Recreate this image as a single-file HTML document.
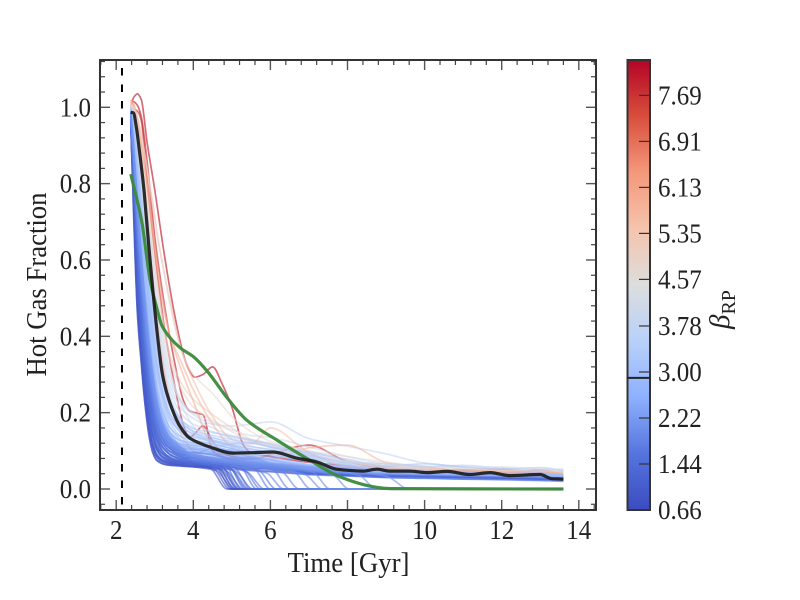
<!DOCTYPE html>
<html lang="en">
<head>
<meta charset="utf-8">
<title>Hot Gas Fraction vs Time</title>
<style>
html,body{margin:0;padding:0;background:#fff;}
#chart{display:block;width:800px;height:600px;font-family:"Liberation Serif",serif;fill:#222;}
</style>
</head>
<body>
<svg id="chart" xmlns="http://www.w3.org/2000/svg" width="800" height="600" viewBox="0 0 800 600">
<defs>
<linearGradient id="cbar-grad" x1="0" y1="1" x2="0" y2="0"></linearGradient>
<clipPath id="plot-clip"><rect x="100" y="60" width="496" height="450"></rect></clipPath>
</defs>
<g id="lines" clip-path="url(#plot-clip)"></g>
<g id="axes"></g>
<g id="cbar"></g>
<text x="348.5" y="572" font-size="28" text-anchor="middle" textLength="122" lengthAdjust="spacingAndGlyphs">Time [Gyr]</text>
<text transform="translate(46,284.5) rotate(-90)" font-size="28" text-anchor="middle" textLength="184" lengthAdjust="spacingAndGlyphs">Hot Gas Fraction</text>
<text transform="translate(729,329) rotate(-90)" font-size="29"><tspan font-style="italic">β</tspan><tspan font-size="20" dy="6">RP</tspan></text>
</svg>
<script>
// ---- shared data ----
const gridTimes = [2.38,2.45,2.55,2.65,2.75,2.85,2.95,3.05,3.2,3.4,3.7,4,4.5,5,5.5,6,7,8,9,10,11,12,13,13.6];
const xTicks = [2,4,6,8,10,12,14];
const yTicks = [0,0.2,0.4,0.6,0.8,1.0];
const xMinorTicks = [1.6,2.4,2.8,3.2,3.6,4.4,4.8,5.2,5.6,6.4,6.8,7.2,7.6,8.4,8.8,9.2,9.6,10.4,10.8,11.2,11.6,12.4,12.8,13.2,13.6,14.4];
const yMinorTicks = [-0.04,0.04,0.08,0.12,0.16,0.24,0.28,0.32,0.36,0.44,0.48,0.52,0.56,0.64,0.68,0.72,0.76,0.84,0.88,0.92,0.96,1.04,1.08,1.12];
const cbarTicks = [0.66,1.44,2.22,3.00,3.78,4.57,5.35,6.13,6.91,7.69];
const cbarRange = [0.66,8.29];
const cbarMarker = 2.9;
const firstSnapshot = 2.15;

// galaxies stripped to zero: early decline, then a drop between two times
const fanHeadTimes = [2.38,2.45,2.55,2.65,2.75,2.85,2.95,3.05,3.2,3.4,3.7,4];
const fanHeads = [
[960,730,460,330,220,140,95,75,66,62,60,58],
[965,760,500,350,240,160,110,85,72,66,62,60],
[970,780,520,370,255,170,118,90,75,68,63,60],
[955,770,530,380,270,190,140,105,85,74,68,62],
[975,810,570,410,300,210,150,115,92,78,70,66],
[960,800,590,430,320,230,170,130,100,82,72,68],
[970,830,610,460,340,250,185,140,110,90,76,70],
[980,850,640,480,360,270,200,155,120,98,82,72],
[965,840,650,500,380,290,220,170,130,105,86,74],
[975,860,670,520,400,300,230,180,135,110,90,78],
[985,880,690,540,420,320,245,190,145,115,94,82],
[970,870,700,560,440,340,260,200,150,118,98,84],
[980,890,720,580,460,350,270,210,158,122,100,86],
[975,885,730,590,470,365,285,222,165,128,104,88],
[990,900,750,610,490,385,300,235,175,135,108,90]
];
const fanHeadIndex = [0,1,2,0,3,1,4,2,5,3,6,4,7,5,8,6,9,7,10,8,11,9,12,10,13,11,14,12,13,14];
const fanBetas = [0.7,0.8,0.8,0.9,0.9,1.0,1.0,1.1,1.1,1.2,1.2,1.3,1.3,1.4,1.4,1.5,1.5,1.6,1.6,1.7,1.7,1.8,1.8,1.9,1.9,2.0,2.0,2.1,2.1,2.2];
const dropStart = [4.42,4.5,4.55,4.6,4.62,4.65,4.7,4.72,4.75,4.8,4.85,4.9,4.95,5.0,5.05,5.1,5.2,5.3,5.4,5.55,5.7,5.9,6.05,6.3,6.6,6.9,7.1,7.6,8.3,9.0];
const dropEnd = [4.88,4.95,5,5.05,5.08,5.1,5.15,5.18,5.2,5.25,5.3,5.35,5.4,5.45,5.5,5.55,5.65,5.75,5.85,6,6.15,6.35,6.5,6.75,7.05,7.35,7.55,8.05,8.75,9.6];
const dropLevel = [55,55,60,48,60,52,62,50,58,64,48,60,55,50,58,46,60,52,44,56,48,42,52,44,46,38,44,38,36,34];

// plateau low-to-mid beta galaxies
const plateauBetas = [1.0,1.2,1.3,1.5,1.6,1.8,1.9,2.1,2.2,2.4,2.5,2.6,2.7,2.8,2.9,3.0];
const plateauValues = [
[960,750,490,340,230,150,105,80,68,64,62,60,56,52,48,45,38,36,34,32,30,28,26,24],
[970,780,530,370,260,170,120,90,76,70,66,64,60,56,50,46,40,37,35,33,31,29,27,25],
[960,790,560,400,290,200,140,105,84,74,68,66,64,60,54,50,42,38,36,34,32,30,28,26],
[975,820,590,430,320,230,165,125,95,80,72,70,68,64,58,52,44,39,36,35,33,31,29,27],
[965,830,620,470,350,260,190,145,110,90,78,74,72,66,60,54,46,40,37,35,34,32,30,28],
[980,850,650,490,370,280,210,160,120,98,84,80,76,70,62,56,47,41,38,36,34,32,30,28],
[970,860,680,530,410,310,240,185,135,105,90,84,80,74,66,58,48,42,39,37,35,33,31,29],
[985,880,700,560,440,340,260,200,150,115,96,88,84,78,68,60,50,43,40,38,36,34,32,30],
[975,880,720,580,460,360,280,215,160,125,102,94,88,80,70,62,52,44,41,38,36,35,33,31],
[990,900,740,600,480,380,295,230,172,132,108,100,92,82,72,64,54,46,42,39,37,35,34,32],
[980,900,760,620,500,400,310,245,185,142,115,105,96,86,74,66,55,47,43,40,38,36,34,32],
[985,910,770,640,520,420,330,260,198,150,122,110,100,90,78,68,56,48,44,41,38,36,35,33],
[990,920,790,660,540,440,350,275,210,160,128,115,105,95,82,70,58,50,45,42,39,37,35,33],
[985,920,800,680,560,460,370,295,225,172,136,120,110,100,86,74,60,52,46,43,40,38,36,34],
[990,930,820,700,590,490,400,320,245,185,145,128,118,106,90,78,62,54,48,44,41,39,37,35],
[995,940,840,720,610,510,420,340,262,198,155,135,124,112,95,80,64,56,50,46,43,40,38,36]
];

// extra plateau galaxies that sit higher at 4-6 Gyr
const extraBetas = [1.4,1.6,1.7,1.9,2.0,2.2,2.4,2.6,2.8,3.0,3.1,3.2];
const extraValues = [
[965,800,560,400,280,190,140,110,92,86,82,80,76,70,62,52,42,36,30,28,26,24,22,20],
[970,830,600,440,320,225,165,130,108,98,92,90,82,76,66,58,44,34,30,28,26,25,23,22],
[975,840,630,480,360,265,195,150,122,108,100,96,90,80,72,62,46,36,31,29,27,26,24,22],
[960,820,630,490,375,285,215,170,135,118,108,104,96,86,76,66,48,38,33,30,28,26,24,23],
[980,860,670,530,415,320,245,195,150,128,114,108,102,90,78,68,52,40,34,31,29,27,25,24],
[985,880,710,570,450,350,275,215,165,135,118,114,108,96,82,70,54,42,36,32,30,28,26,24],
[990,900,750,610,490,390,305,240,182,146,126,120,112,100,88,76,58,44,37,33,31,29,27,25],
[985,905,775,650,530,430,340,270,205,160,136,128,118,106,94,84,64,48,40,35,32,30,28,26],
[995,925,810,690,575,475,385,310,238,180,150,138,128,116,104,94,74,54,44,38,34,31,29,27],
[995,935,830,715,605,505,415,335,258,195,160,146,134,124,112,102,82,60,46,40,36,33,30,28],
[1000,945,850,740,630,530,440,360,280,212,170,152,140,130,120,110,88,64,48,42,38,34,32,30],
[1000,950,865,760,650,550,460,380,295,225,178,158,148,138,128,118,92,66,50,44,40,36,34,32]
];

// galaxies with uneven, wandering tracks through the band
const wanderBetas = [3.2,2.6,2.2,1.8,1.5,1.2,3.4,4.2,1.6,2.0];
const wanderValues = [
[990,930,820,700,590,490,400,330,255,190,150,125,112,118,122,110,96,78,60,66,58,52,56,48],
[985,900,760,620,500,400,320,255,190,145,112,98,92,104,96,88,72,52,48,44,46,40,42,36],
[980,880,710,570,450,350,270,210,160,125,100,92,106,98,84,76,60,44,40,42,37,38,33,30],
[975,860,670,520,400,300,230,175,130,105,88,96,90,78,84,68,52,42,38,34,36,31,32,28],
[970,830,610,460,340,250,180,130,100,82,76,88,74,68,72,58,48,38,36,37,32,33,29,27],
[965,800,560,400,290,200,140,105,82,72,66,74,66,58,52,56,40,36,32,33,30,30,27,26],
[995,945,860,755,650,555,465,385,300,230,180,150,120,105,92,100,84,70,66,58,62,54,50,52],
[1005,985,930,855,770,680,590,510,410,310,220,165,120,95,88,92,76,72,64,60,56,58,52,50],
[960,790,550,390,280,195,140,100,80,70,64,60,62,72,80,66,44,36,34,32,33,29,28,25],
[968,840,640,490,370,270,195,150,112,92,78,66,58,64,66,60,38,34,33,31,29,30,26,24]
];

// pale and salmon galaxies
const paleBetas = [3.1,3.3,3.5,3.7,3.9,3.7,4.1,4.4,4.8,5.1,5.6,5.8,5.6,6.0,4.7];
const paleValues = [
[990,950,860,750,640,540,450,370,285,215,165,142,125,112,100,92,72,58,52,48,45,42,40,38],
[995,955,870,770,660,560,470,390,300,228,172,150,128,115,105,98,80,62,54,50,46,43,40,38],
[1000,960,880,790,680,580,490,410,320,240,180,160,135,120,110,105,88,68,56,50,47,44,41,39],
[1000,965,890,800,700,600,510,430,335,255,195,170,150,135,125,115,95,72,58,52,48,45,42,40],
[1000,970,900,820,720,620,530,450,350,270,210,185,160,140,130,120,100,75,60,54,49,46,43,41],
[1000,970,910,830,730,640,550,470,370,285,225,195,170,165,170,176,132,112,92,68,58,50,44,40],
[1005,975,920,840,750,660,570,490,390,300,230,200,175,155,140,135,110,85,65,55,50,47,44,41],
[1005,975,900,790,660,530,420,330,240,140,68,65,65,60,55,52,45,42,40,38,37,36,35,34],
[1010,990,940,870,790,700,610,530,430,335,260,215,180,150,125,110,85,70,58,52,48,46,44,42],
[1015,995,950,885,810,720,630,550,450,350,275,235,195,160,130,115,90,72,60,54,50,48,45,43],
[1010,1005,975,930,870,810,750,680,590,490,360,285,190,130,118,160,95,60,55,46,52,44,50,42],
[1020,1005,965,905,830,750,670,590,490,400,330,260,170,110,85,78,108,115,70,58,48,54,44,46],
[1015,1000,950,870,770,660,550,450,340,230,140,100,78,70,65,62,55,50,44,50,42,48,43,38],
[1020,1010,970,910,840,760,680,600,500,400,310,230,110,75,65,62,56,52,50,44,50,43,47,40],
[1005,1000,970,925,870,805,740,670,590,480,360,300,250,190,150,125,100,85,70,60,55,50,48,45]
];

// red high-beta galaxies (own time samples)
const redTimes = [2.38,2.45,2.55,2.65,2.8,3,3.27,3.5,3.75,3.9,4.04,4.25,4.5,4.75,5,5.3,5.5,6,7,8,9,10,11,12,13,13.6];
const redBetas = [8.0,7.9,7.8];
const redValues = [
[1000,1025,1035,1020,910,783,600,465,350,310,293,300,320,275,215,115,95,85,70,60,44,50,42,50,40,40],
[1010,1015,1005,975,860,660,470,340,230,205,200,195,100,85,80,75,72,68,60,55,50,42,50,40,50,36],
[985,995,990,965,810,620,410,280,165,135,145,165,125,95,85,80,78,90,115,72,55,50,44,48,42,38]
];

// median line
const medianTimes = [2.38,2.45,2.52,2.6,2.72,2.85,2.95,3.03,3.2,3.37,3.65,3.91,4.43,5.03,5.5,6.07,6.68,7.2,7.72,8.4,8.76,9.1,9.6,10.06,10.58,11.17,11.7,12.2,13,13.3,13.6];
const medianValues = [987,985,950,888,783,630,521,440,300,233,165,133,110,94,95,97,81,71,52,47,52,47,47,43,46,38,43,35,38,27,26];

// reference green line
const greenTimes = [2.38,2.67,2.88,3.05,3.2,3.66,4,4.35,4.9,5.39,6.17,6.95,7.8,8.66,9.1,13.6];
const greenValues = [825,697,547,475,425,370,347,310,236,180,128,80,32,6,1,0];

// ---- scales ----
const x = t => 116.2 + (t - 2) * 38.55;
const y = v => 489 - v * 381.7;
const cbarY = b => 510 - (b - cbarRange[0]) / (cbarRange[1] - cbarRange[0]) * 450;
const NS = 'http://www.w3.org/2000/svg';
const coolStops = [[0,59,76,192],[0.125,85,116,222],[0.25,141,176,254],[0.375,184,208,249],[0.5,221,221,221],[0.625,245,196,173],[0.75,244,152,122],[0.875,216,78,60],[1,180,4,38]];
function cool(f){
  f = Math.max(0, Math.min(1, f));
  for (let i = 1; i < coolStops.length; i++) {
    if (f <= coolStops[i][0]) {
      const a = coolStops[i-1], b = coolStops[i], k = (f - a[0]) / (b[0] - a[0]);
      return 'rgb(' + [1,2,3].map(j => Math.round(a[j] + (b[j] - a[j]) * k)).join(',') + ')';
    }
  }
  return 'rgb(180,4,38)';
}
const betaColor = b => cool((b - cbarRange[0]) / (cbarRange[1] - cbarRange[0]));

function smoothPath(ts, vs){
  const px = ts.map(x), py = vs.map(v => y(v / 1000)), n = px.length;
  const s = [], m = [];
  for (let i = 0; i < n - 1; i++) s.push((py[i+1] - py[i]) / (px[i+1] - px[i]));
  m[0] = s[0];
  m[n-1] = s[n-2];
  for (let i = 1; i < n - 1; i++) {
    m[i] = s[i-1] * s[i] <= 0 ? 0 : 2 * s[i-1] * s[i] / (s[i-1] + s[i]);
  }
  let d = 'M' + px[0].toFixed(1) + ' ' + py[0].toFixed(1);
  for (let i = 0; i < n - 1; i++) {
    const h = (px[i+1] - px[i]) / 3;
    d += 'C' + (px[i] + h).toFixed(1) + ' ' + (py[i] + m[i] * h).toFixed(1) + ' ' + (px[i+1] - h).toFixed(1) + ' ' + (py[i+1] - m[i+1] * h).toFixed(1) + ' ' + px[i+1].toFixed(1) + ' ' + py[i+1].toFixed(1);
  }
  return d;
}

const linesG = document.getElementById('lines');
const axesG = document.getElementById('axes');
const cbarG = document.getElementById('cbar');

function drawSeries(ts, vs, color, width, opacity, name){
  const p = document.createElementNS(NS, 'path');
  p.setAttribute('d', smoothPath(ts, vs));
  p.setAttribute('fill', 'none');
  p.setAttribute('stroke', color);
  p.setAttribute('stroke-width', width);
  p.setAttribute('stroke-opacity', opacity);
  p.setAttribute('stroke-linejoin', 'round');
  
  
  linesG.appendChild(p);
}

redValues.forEach((vs, i) => drawSeries(redTimes, vs, betaColor(redBetas[i]), 1.7, 0.65, 'red-galaxy-line'));
paleValues.forEach((vs, i) => drawSeries(gridTimes, vs, betaColor(paleBetas[i]), 1.7, 0.55, 'pale-galaxy-line'));
extraValues.forEach((vs, i) => drawSeries(gridTimes, vs, betaColor(extraBetas[i]), 1.7, 0.5, 'extra-galaxy-line'));
wanderValues.forEach((vs, i) => drawSeries(gridTimes, vs, betaColor(wanderBetas[i]), 1.7, 0.55, 'wandering-galaxy-line'));
plateauValues.forEach((vs, i) => drawSeries(gridTimes, vs, betaColor(plateauBetas[i]), 1.7, 0.55, 'plateau-galaxy-line'));
dropStart.forEach((ts, i) => {
  const head = fanHeads[fanHeadIndex[i]];
  const times = fanHeadTimes.concat([ts, dropEnd[i], 13.6]);
  const values = head.concat([dropLevel[i], 0, 0]);
  drawSeries(times, values, betaColor(fanBetas[i]), 1.7, 0.6, 'stripped-galaxy-line');
});
drawSeries(greenTimes, greenValues, '#3c8a3c', 3.2, 0.95, 'reference-green-line');
drawSeries(medianTimes, medianValues, '#1c1c1c', 3.2, 0.92, 'median-line');

function line(parent, x1, y1, x2, y2, color, w, name){
  const l = document.createElementNS(NS, 'line');
  l.setAttribute('x1', x1);
  l.setAttribute('y1', y1);
  l.setAttribute('x2', x2);
  l.setAttribute('y2', y2);
  l.setAttribute('stroke', color);
  l.setAttribute('stroke-width', w);
  
  
  parent.appendChild(l);
  return l;
}
function label(parent, tx, ty, str, anchor, name){
  const t = document.createElementNS(NS, 'text');
  t.setAttribute('x', tx);
  t.setAttribute('y', ty);
  t.setAttribute('font-size', 27);
  t.setAttribute('text-anchor', anchor);
  const digits = str.replace('.', '').length;
  const width = (digits * 0.5 + (str.length - digits) * 0.25) * 25;
  t.setAttribute('textLength', width);
  t.setAttribute('lengthAdjust', 'spacingAndGlyphs');
  
  
  t.textContent = str;
  parent.appendChild(t);
}

// first snapshot dashed line
const dash = line(axesG, x(firstSnapshot), 68, x(firstSnapshot), 510, '#000', 2, 'first-snapshot-line');
dash.setAttribute('stroke-dasharray', '7.5 9');

// ticks
xTicks.forEach(v => {
  line(axesG, x(v), 510, x(v), 500, '#555', 1.4, 'x-major-tick');
  line(axesG, x(v), 60, x(v), 70, '#555', 1.4, 'x-major-tick-top');
  label(axesG, x(v), 539, String(v), 'middle', 'x-tick-label');
});
xMinorTicks.forEach(v => {
  line(axesG, x(v), 510, x(v), 505, '#444', 1.2, 'x-minor-tick');
  line(axesG, x(v), 60, x(v), 65, '#444', 1.2, 'x-minor-tick-top');
});
yTicks.forEach(v => {
  line(axesG, 100, y(v), 110, y(v), '#555', 1.4, 'y-major-tick');
  line(axesG, 596, y(v), 586, y(v), '#555', 1.4, 'y-major-tick-right');
  label(axesG, 91, y(v) + 9, v.toFixed(1), 'end', 'y-tick-label');
});
yMinorTicks.forEach(v => {
  line(axesG, 100, y(v), 105, y(v), '#444', 1.2, 'y-minor-tick');
  line(axesG, 596, y(v), 591, y(v), '#444', 1.2, 'y-minor-tick-right');
});

// plot frame
const frame = document.createElementNS(NS, 'rect');
frame.setAttribute('x', 100);
frame.setAttribute('y', 60);
frame.setAttribute('width', 496);
frame.setAttribute('height', 450);
frame.setAttribute('fill', 'none');
frame.setAttribute('stroke', '#333');
frame.setAttribute('stroke-width', 2);


axesG.appendChild(frame);

// colorbar
const grad = document.getElementById('cbar-grad');
coolStops.forEach(s => {
  const st = document.createElementNS(NS, 'stop');
  st.setAttribute('offset', s[0]);
  st.setAttribute('stop-color', 'rgb(' + s[1] + ',' + s[2] + ',' + s[3] + ')');
  grad.appendChild(st);
});
const bar = document.createElementNS(NS, 'rect');
bar.setAttribute('x', 627.5);
bar.setAttribute('y', 60);
bar.setAttribute('width', 22.5);
bar.setAttribute('height', 450);
bar.setAttribute('fill', 'url(#cbar-grad)');
bar.setAttribute('stroke', '#333');
bar.setAttribute('stroke-width', 2);


cbarG.appendChild(bar);
line(cbarG, 627.5, cbarY(cbarMarker), 650, cbarY(cbarMarker), '#222', 2, 'colorbar-threshold-line');
cbarTicks.forEach(v => {
  line(cbarG, 639, cbarY(v), 650, cbarY(v), '#333', 1.2, 'colorbar-tick');
  label(cbarG, 658, cbarY(v) + 9, v.toFixed(2), 'start', 'colorbar-tick-label');
});
</script>
</body>
</html>
